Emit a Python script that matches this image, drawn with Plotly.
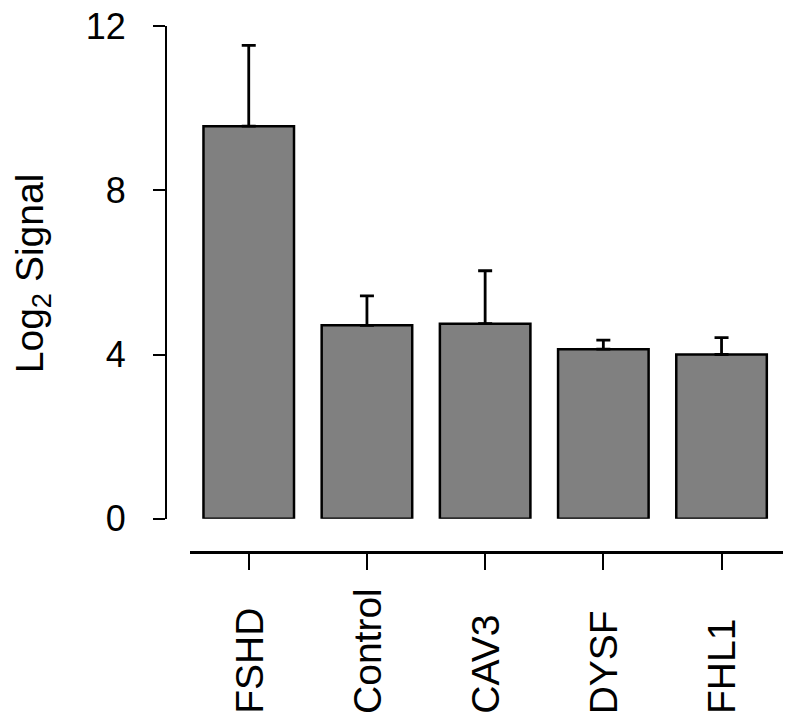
import plotly.graph_objects as go

categories = ["FSHD", "Control", "CAV3", "DYSF", "FHL1"]
means = [9.56, 4.71, 4.75, 4.13, 4.00]
err_upper = [1.97, 0.72, 1.29, 0.22, 0.41]
y_ticks = [0, 4, 8, 12]

FONT = "Liberation Sans, Arial, sans-serif"

fig = go.Figure()
fig.add_trace(go.Bar(
    x=categories,
    y=means,
    width=0.766,
    marker=dict(color="#808080", line=dict(color="#000000", width=2.5)),
    error_y=dict(type="data", array=err_upper, arrayminus=[0]*len(means),
                 symmetric=False, color="#000000", thickness=2.8, width=7),
    showlegend=False,
))

# category labels, rotated and aligned at their start (bottom), as in the reference
label_annotations = [
    dict(text=c, x=c, xref="x", y=0, yref="paper", yshift=-164,
         xanchor="center", yanchor="bottom", textangle=-90,
         showarrow=False, font=dict(size=39, family=FONT))
    for c in categories
]

fig.update_layout(
    width=793, height=724,
    margin=dict(l=166, r=10, t=26, b=172, autoexpand=False),
    plot_bgcolor="white", paper_bgcolor="white",
    font=dict(family=FONT, color="black", size=36),
    xaxis=dict(
        domain=[0.0389, 1], anchor="free", position=0,
        range=[-0.497, 4.52], automargin=False,
        showline=True, linecolor="black", linewidth=2.7,
        ticks="outside", ticklen=16, tickwidth=2, tickcolor="black",
        showticklabels=False,
        showgrid=False, zeroline=False,
    ),
    yaxis=dict(
        domain=[0.0632, 1], anchor="free", position=0,
        range=[0, 12], tickvals=y_ticks, ticktext=[str(v) for v in y_ticks],
        automargin=False, ticklabeloverflow="allow",
        showline=True, linecolor="black", linewidth=2.2,
        ticks="outside", ticklen=12, tickwidth=2, tickcolor="black",
        tickfont=dict(size=36, family=FONT),
        ticklabelstandoff=20,
        showgrid=False, zeroline=False,
    ),
    annotations=label_annotations + [dict(
        text="Log<sub>2</sub> Signal", xref="paper", yref="paper",
        x=0, y=0.53, xshift=-134, xanchor="center", yanchor="middle",
        textangle=-90, showarrow=False, font=dict(size=39, family=FONT),
    )],
)

fig.write_html(
    "out.html",
    config={"displayModeBar": False, "staticPlot": True},
    post_script="document.body.style.margin='0';document.body.style.overflow='hidden';",
)
